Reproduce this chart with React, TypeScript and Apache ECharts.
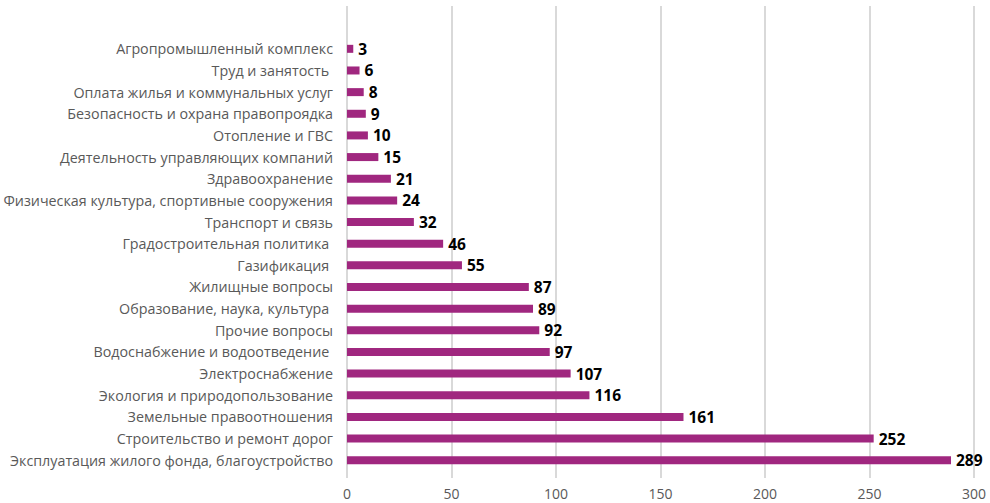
import React, { useEffect, useRef } from "react";
import * as echarts from "echarts";

const categories: string[] = [
  "Эксплуатация жилого фонда, благоустройство",
  "Строительство и ремонт дорог",
  "Земельные правоотношения",
  "Экология и природопользование",
  "Электроснабжение",
  "Водоснабжение и водоотведение ",
  "Прочие вопросы",
  "Образование, наука, культура ",
  "Жилищные вопросы",
  "Газификация ",
  "Градостроительная политика ",
  "Транспорт и связь",
  "Физическая культура, спортивные сооружения",
  "Здравоохранение",
  "Деятельность управляющих компаний",
  "Отопление и ГВС",
  "Безопасность и охрана правопроядка",
  "Оплата жилья и коммунальных услуг",
  "Труд и занятость ",
  "Агропромышленный комплекс",
];

const values: number[] = [289, 252, 161, 116, 107, 97, 92, 89, 87, 55, 46, 32, 24, 21, 15, 10, 9, 8, 6, 3];

const xMin = 0;
const xMax = 300;
const xStep = 50;

export default function App() {
  const ref = useRef<HTMLDivElement>(null);
  useEffect(() => {
    if (!ref.current) return;
    const chart = echarts.init(ref.current, undefined, { renderer: "svg" });
    chart.setOption({
      animation: false,
      backgroundColor: "#ffffff",
      grid: [
        { left: 347, right: 16, top: 6, bottom: 25 },
        { left: 347, right: 16, top: 38, height: 433 },
      ],
      xAxis: [
        {
          gridIndex: 0,
          type: "value",
          min: xMin,
          max: xMax,
          interval: xStep,
          axisLine: { show: false },
          axisTick: { show: false },
          splitLine: { show: true, lineStyle: { color: "#d9d9d9", width: 2 } },
          axisLabel: {
            color: "#595959",
            fontFamily: "Open Sans",
            fontSize: 14,
            margin: 8,
          },
        },
        {
          gridIndex: 1,
          type: "value",
          min: xMin,
          max: xMax,
          interval: xStep,
          show: false,
        },
      ],
      yAxis: [
        {
          gridIndex: 0,
          type: "category",
          data: categories,
          show: false,
        },
        {
          gridIndex: 1,
          type: "category",
          data: categories,
          axisLine: { show: false },
          axisTick: { show: false },
          splitLine: { show: false },
          axisLabel: {
            color: "#595959",
            fontFamily: "Open Sans",
            fontSize: 14.3,
            margin: 14,
            interval: 0,
          },
        },
      ],
      series: [
        {
          type: "bar",
          xAxisIndex: 1,
          yAxisIndex: 1,
          data: values,
          barWidth: 8,
          itemStyle: { color: "#a0277f" },
          label: {
            show: true,
            position: "right",
            distance: 5,
            color: "#000000",
            fontFamily: "Open Sans",
            fontWeight: "bold",
            fontSize: 15.5,
          },
        },
      ],
    });
    return () => chart.dispose();
  }, []);
  return (
    <div
      ref={ref}
      style={{ position: "fixed", left: 0, top: 0, width: 990, height: 503 }}
    />
  );
}
